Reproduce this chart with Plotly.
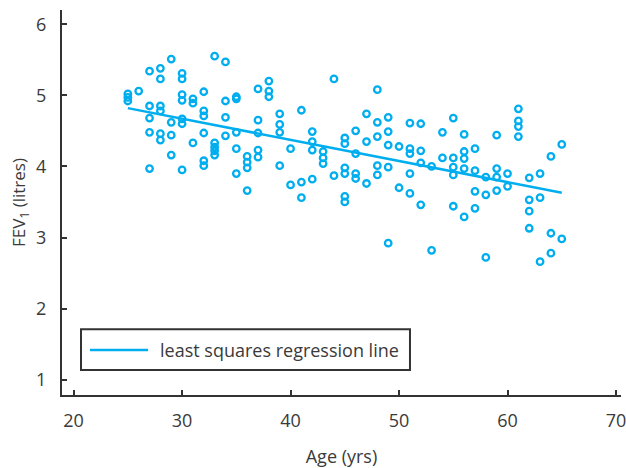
import plotly.graph_objects as go

# ---- data ----
ages = [25, 25, 25, 26,
        27, 27, 27, 27, 27,
        28, 28, 28, 28, 28, 28,
        29, 29, 29, 29,
        30, 30, 30, 30, 30, 30, 30,
        31, 31, 31,
        32, 32, 32, 32, 32, 32,
        33, 33, 33, 33, 33,
        34, 34, 34, 34,
        35, 35, 35, 35, 35,
        36, 36, 36, 36,
        37, 37, 37, 37, 37,
        38, 38, 38,
        39, 39, 39, 39,
        40, 40,
        41, 41, 41,
        42, 42, 42, 42,
        43, 43, 43,
        44, 44,
        45, 45, 45, 45, 45, 45,
        46, 46, 46, 46,
        47, 47, 47,
        48, 48, 48, 48, 48,
        49, 49, 49, 49, 49,
        50, 50,
        51, 51, 51, 51, 51,
        52, 52, 52, 52,
        53, 53,
        54, 54,
        55, 55, 55, 55, 55,
        56, 56, 56, 56, 56,
        57, 57, 57, 57,
        58, 58, 58,
        59, 59, 59, 59,
        60, 60,
        61, 61, 61, 61,
        62, 62, 62, 62,
        63, 63, 63,
        64, 64, 64,
        65, 65]

fev1 = [5.02, 4.97, 4.92, 5.06,
        5.34, 4.85, 4.68, 4.48, 3.97,
        5.38, 5.23, 4.85, 4.78, 4.46, 4.37,
        5.51, 4.62, 4.44, 4.16,
        5.31, 5.23, 5.01, 4.93, 4.67, 4.60, 3.95,
        4.95, 4.89, 4.33,
        5.05, 4.78, 4.71, 4.47, 4.08, 4.01,
        5.55, 4.33, 4.27, 4.22, 4.16,
        5.47, 4.92, 4.69, 4.43,
        4.98, 4.95, 4.48, 4.25, 3.90,
        4.14, 4.06, 3.98, 3.66,
        5.09, 4.65, 4.47, 4.23, 4.13,
        5.20, 5.06, 4.98,
        4.74, 4.59, 4.48, 4.01,
        4.25, 3.74,
        4.79, 3.78, 3.56,
        4.49, 4.35, 4.23, 3.82,
        4.21, 4.12, 4.04,
        5.23, 3.87,
        4.40, 4.32, 3.98, 3.90, 3.58, 3.50,
        4.50, 4.18, 3.90, 3.83,
        4.74, 4.35, 3.76,
        5.08, 4.62, 4.42, 4.01, 3.88,
        4.69, 4.49, 4.30, 3.99, 2.92,
        4.28, 3.70,
        4.61, 4.25, 4.18, 3.90, 3.62,
        4.60, 4.22, 4.05, 3.46,
        4.00, 2.82,
        4.48, 4.12,
        4.68, 4.12, 3.99, 3.88, 3.44,
        4.45, 4.21, 4.11, 3.97, 3.29,
        4.25, 3.94, 3.65, 3.41,
        3.85, 3.60, 2.72,
        4.44, 3.97, 3.85, 3.66,
        3.90, 3.72,
        4.81, 4.64, 4.56, 4.42,
        3.84, 3.53, 3.37, 3.13,
        3.90, 3.56, 2.66,
        4.14, 3.06, 2.78,
        4.31, 2.98]

reg_age = [25, 65]
reg_fev = [4.82, 3.63]
reg_name = "least squares regression line"

x_ticks = [20, 30, 40, 50, 60, 70]
y_ticks = [1, 2, 3, 4, 5, 6]

BLUE = "#00AEEF"
DARK = "#333333"
TXT = "#3a3a3a"
FONT = "'Open Sans', Lato, sans-serif"

fig = go.Figure()
fig.add_trace(go.Scatter(
    x=reg_age, y=reg_fev, mode="lines", name=reg_name,
    line=dict(color=BLUE, width=2.5), showlegend=False))
fig.add_trace(go.Scatter(
    x=ages, y=fev1, mode="markers", name="data",
    marker=dict(symbol="circle-open", size=6.5, color=BLUE,
                line=dict(color=BLUE, width=2.3)),
    showlegend=False))

axis_common = dict(showline=True, linecolor=DARK, linewidth=2,
                   ticks="inside", ticklen=5, tickwidth=1.5, tickcolor=DARK,
                   showgrid=False, zeroline=False, automargin=False,
                   ticklabeloverflow="allow",
                   tickfont=dict(family=FONT, size=18, color=TXT))

fig.update_xaxes(range=[18.93, 70.46], tickvals=x_ticks,
                 title=dict(text="Age (yrs)", standoff=20,
                            font=dict(family=FONT, size=18, color=TXT)),
                 ticklabelstandoff=8, **axis_common)
fig.update_yaxes(range=[0.785, 6.2], tickvals=y_ticks,
                 title=dict(text="FEV<sub>1</sub> (litres)", standoff=6,
                            font=dict(family=FONT, size=17, color=TXT)),
                 ticklabelstandoff=10, **axis_common)

# legend box drawn by hand so the line sample matches the reference length
fig.add_shape(type="rect", xref="paper", yref="paper",
              x0=0.034, x1=0.6225, y0=0.065, y1=0.171,
              line=dict(color=DARK, width=2), fillcolor="white", layer="above")
fig.add_shape(type="line", xref="paper", yref="paper",
              x0=0.050, x1=0.154, y0=0.117, y1=0.117,
              line=dict(color=BLUE, width=2.5), layer="above")
fig.add_annotation(xref="paper", yref="paper", x=0.172, y=0.117,
                   xanchor="left", yanchor="middle", showarrow=False,
                   text=reg_name,
                   font=dict(family=FONT, size=18, color=TXT))

fig.update_layout(width=626, height=468,
                  margin=dict(l=62, r=5, t=10, b=73),
                  plot_bgcolor="white", paper_bgcolor="white",
                  font=dict(family=FONT))

fig.write_html("out.html",
               config={"displayModeBar": False},
               post_script="document.body.style.margin='0';"
                           "document.body.style.overflow='hidden';")
